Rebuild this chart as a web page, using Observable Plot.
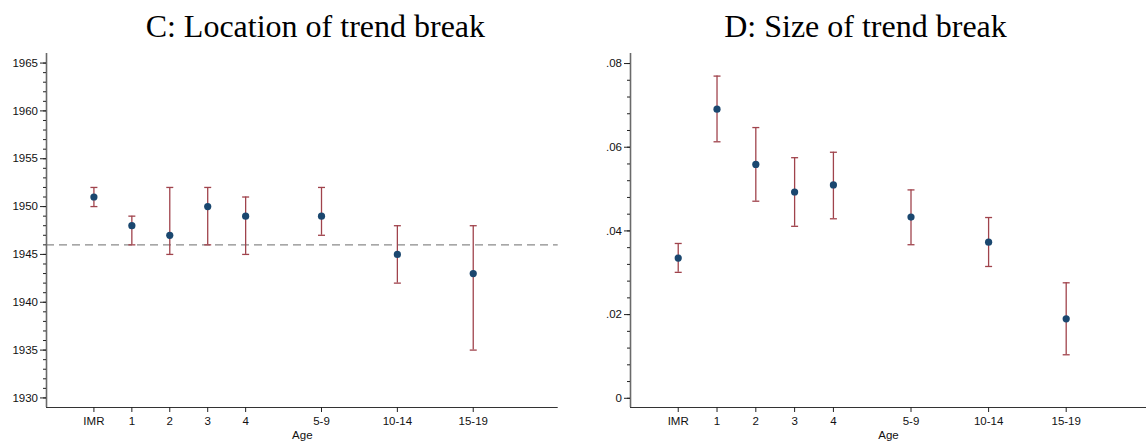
<!DOCTYPE html>
<html>
<head>
<meta charset="utf-8">
<script src="https://cdn.jsdelivr.net/npm/d3@7"></script>
<script src="https://cdn.jsdelivr.net/npm/@observablehq/plot@0.6"></script>
<style>
  body { margin: 0; background: #fff; }
  #wrap { position: relative; width: 1146px; height: 445px; overflow: hidden; background: #fff; }
  #wrap svg { position: absolute; top: 0; }
</style>
</head>
<body>
<div id="wrap"></div>
<script>
// ---- data ----
const ages = ["IMR", "1", "2", "3", "4", "5-9", "10-14", "15-19"];
const ageCode = [0, 1, 2, 3, 4, 6, 8, 10];

const locEst = [1951, 1948, 1947, 1950, 1949, 1949, 1945, 1943];
const locLo  = [1950, 1946, 1945, 1946, 1945, 1947, 1942, 1935];
const locHi  = [1952, 1949, 1952, 1952, 1951, 1952, 1948, 1948];
const locRef = 1946;
const locTicks = [1930, 1935, 1940, 1945, 1950, 1955, 1960, 1965];
const locMinor = d3.range(1930, 1966, 1);

const sizeEst = [0.0335, 0.0691, 0.0559, 0.0493, 0.0510, 0.0433, 0.0373, 0.0190];
const sizeLo  = [0.0301, 0.0613, 0.0471, 0.0411, 0.0429, 0.0367, 0.0315, 0.0104];
const sizeHi  = [0.0370, 0.0770, 0.0647, 0.0575, 0.0588, 0.0498, 0.0432, 0.0276];
const sizeTicks = [0, 0.02, 0.04, 0.06, 0.08];
const sizeTickLabels = ["0", ".02", ".04", ".06", ".08"];
const sizeMinor = d3.range(0, 0.0801, 0.004);

const titles = ["C: Location of trend break", "D: Size of trend break"];
const xLabel = "Age";

// ---- styling ----
const dotColor = "#1a476f";
const barColor = "#a0434c";
const capSymbol = { draw(ctx, size) { const w = Math.sqrt(size / Math.PI); ctx.moveTo(-w, 0); ctx.lineTo(w, 0); } };

function rows(est, lo, hi) {
  return ages.map((a, i) => ({ age: a, code: ageCode[i], est: est[i], lo: lo[i], hi: hi[i] }));
}

function panel({ data, width, marginLeft, marginRight, xDomain, yDomain, ticks, tickFormat, minor, ref, title, titleDx }) {
  const marks = [];
  if (ref != null) {
    marks.push(Plot.ruleY([ref], { stroke: "#8a8a8a", strokeWidth: 1.2, strokeDasharray: "8,5" }));
  }
  marks.push(
    Plot.ruleX([xDomain[0]], { stroke: "#6a6a6a", strokeWidth: 1.6 }),
    Plot.ruleY([yDomain[0]], { stroke: "#333", strokeWidth: 1.2 }),
    Plot.axisY(minor, { tickSize: 3, tickFormat: () => "", stroke: "#222" }),
    Plot.axisY(ticks, { tickSize: 6, tickPadding: 2.5, tickFormat, stroke: "#222", fill: "#111",
                        fontSize: 11.5, fontFamily: "Liberation Sans, Arial, sans-serif", label: null }),
    Plot.axisX(ageCode, { tickSize: 5, tickPadding: 4, tickFormat: (d) => ages[ageCode.indexOf(d)],
                          stroke: "#222", fill: "#111", fontSize: 11.5,
                          fontFamily: "Liberation Sans, Arial, sans-serif", label: null }),
    Plot.ruleX(data, { x: "code", y1: "lo", y2: "hi", stroke: barColor, strokeWidth: 1.3 }),
    Plot.dot(data, { x: "code", y: "lo", r: 3.5, symbol: capSymbol, stroke: barColor, strokeWidth: 1.3 }),
    Plot.dot(data, { x: "code", y: "hi", r: 3.5, symbol: capSymbol, stroke: barColor, strokeWidth: 1.3 }),
    Plot.dot(data, { x: "code", y: "est", r: 3.6, fill: dotColor, stroke: "none" }),
    Plot.text([xLabel], { frameAnchor: "bottom", dy: 28, lineAnchor: "middle", fontSize: 11.5,
                          fontFamily: "Liberation Sans, Arial, sans-serif", fill: "#111" }),
    Plot.text([title], { frameAnchor: "top", dy: -17, dx: titleDx, lineAnchor: "bottom", fontSize: 32,
                         fontFamily: "Liberation Serif, Times New Roman, serif", fill: "#000" })
  );
  return Plot.plot({
    width, height: 445,
    marginLeft, marginRight, marginTop: 53, marginBottom: 38,
    x: { type: "linear", domain: xDomain, axis: null },
    y: { type: "linear", domain: yDomain, axis: null },
    style: { background: "transparent", overflow: "visible" },
    marks
  });
}

const wrap = document.getElementById("wrap");

const left = panel({
  data: rows(locEst, locLo, locHi),
  width: 573, marginLeft: 46, marginRight: 15.3,
  xDomain: [-1.25, 12.24], yDomain: [1929, 1966],
  ticks: locTicks, tickFormat: (d) => String(d), minor: locMinor,
  ref: locRef, title: titles[0], titleDx: 13
});
left.style.left = "0px";
wrap.appendChild(left);

const right = panel({
  data: rows(sizeEst, sizeLo, sizeHi),
  width: 573, marginLeft: 57, marginRight: 0,
  xDomain: [-1.23, 12.07], yDomain: [-0.0022, 0.0824],
  ticks: sizeTicks, tickFormat: (d) => sizeTickLabels[sizeTicks.indexOf(d)], minor: sizeMinor,
  ref: null, title: titles[1], titleDx: -23
});
right.style.left = "573px";
wrap.appendChild(right);
</script>
</body>
</html>
